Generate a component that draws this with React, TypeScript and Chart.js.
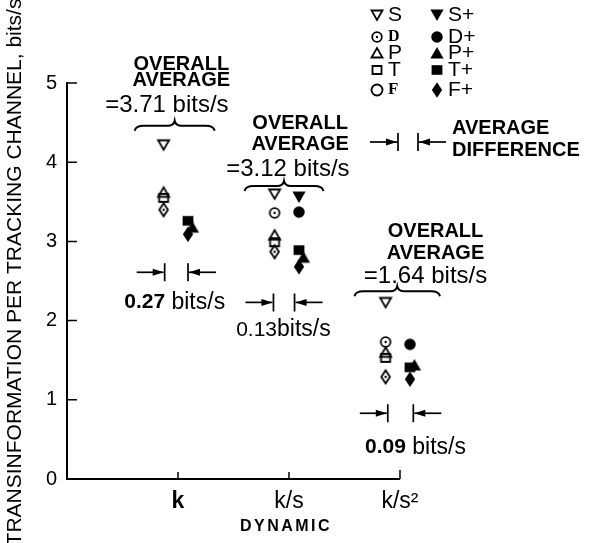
import React, { useEffect, useRef } from "react";
import { Chart, registerables } from "chart.js";

Chart.register(...registerables);

// ---------- data ----------
const CATEGORIES = ["k", "k/s", "k/s²"];
const Y_TICKS = [0, 1, 2, 3, 4, 5];
const Y_TITLE = "TRANSINFORMATION PER TRACKING CHANNEL, bits/s";
const X_TITLE = "DYNAMIC";

// open symbols (without +)
const S_OPEN = [4.22, 3.6, 2.23];
const D_OPEN = [null, 3.36, 1.73];
const P_OPEN = [3.62, 3.08, 1.6];
const T_OPEN = [3.55, 2.99, 1.53];
const F_OPEN = [3.4, 2.87, 1.29];
// filled symbols (with +)
const S_PLUS = [null, 3.56, null];
const D_PLUS = [null, 3.37, 1.7];
const P_PLUS = [3.18, 2.8, 1.44];
const T_PLUS = [3.26, 2.89, 1.41];
const F_PLUS = [3.09, 2.68, 1.26];

const OVERALL_AVG = ["3.71", "3.12", "1.64"];
const AVG_DIFF = ["0.27", "0.13", "0.09"];

// ---------- style / layout ----------
const W = 589;
const H = 543;
const X_MAX = 3.3;
const OPEN_DX = -0.13;
const FILLED_DX = 0.09;
const FONT = "'Liberation Sans', Arial, sans-serif";

type Kind = "triDown" | "triUp" | "circle" | "square" | "diamond" | "ring";

const SERIES: { name: string; values: (number | null)[]; kind: Kind; filled: boolean; dx: number }[] = [
  { name: "S", values: S_OPEN, kind: "triDown", filled: false, dx: OPEN_DX },
  { name: "D", values: D_OPEN, kind: "circle", filled: false, dx: OPEN_DX },
  { name: "P", values: P_OPEN, kind: "triUp", filled: false, dx: OPEN_DX },
  { name: "T", values: T_OPEN, kind: "square", filled: false, dx: OPEN_DX },
  { name: "F", values: F_OPEN, kind: "diamond", filled: false, dx: OPEN_DX },
  { name: "S+", values: S_PLUS, kind: "triDown", filled: true, dx: FILLED_DX },
  { name: "D+", values: D_PLUS, kind: "circle", filled: true, dx: FILLED_DX },
  { name: "P+", values: P_PLUS, kind: "triUp", filled: true, dx: FILLED_DX + 0.04 },
  { name: "T+", values: T_PLUS, kind: "square", filled: true, dx: FILLED_DX },
  { name: "F+", values: F_PLUS, kind: "diamond", filled: true, dx: FILLED_DX },
];

function makeSprite(kind: Kind, filled: boolean): HTMLCanvasElement {
  const c = document.createElement("canvas");
  c.width = 18;
  c.height = 18;
  const g = c.getContext("2d")!;
  g.fillStyle = "#000";
  g.strokeStyle = "#000";
  g.lineWidth = 1.8;
  g.lineJoin = "miter";
  const cx = 9;
  const cy = 9;
  const s = filled ? 1.2 : 1;
  g.beginPath();
  if (kind === "triDown") {
    g.moveTo(cx - 5.5 * s, cy - 4.5 * s);
    g.lineTo(cx + 5.5 * s, cy - 4.5 * s);
    g.lineTo(cx, cy + 5 * s);
    g.closePath();
  } else if (kind === "triUp") {
    g.moveTo(cx - 5.5 * s, cy + 4.5 * s);
    g.lineTo(cx + 5.5 * s, cy + 4.5 * s);
    g.lineTo(cx, cy - 5 * s);
    g.closePath();
  } else if (kind === "circle" || kind === "ring") {
    g.arc(cx, cy, (kind === "ring" ? 5.5 : 4.8) * s, 0, Math.PI * 2);
  } else if (kind === "square") {
    g.rect(cx - 4.5 * s, cy - 4 * s, 9 * s, 8 * s);
  } else if (kind === "diamond") {
    g.moveTo(cx, cy - 6.5 * s);
    g.lineTo(cx + 4.3 * s, cy);
    g.lineTo(cx, cy + 6.5 * s);
    g.lineTo(cx - 4.3 * s, cy);
    g.closePath();
  }
  if (filled) g.fill();
  else g.stroke();
  if (!filled && (kind === "circle" || kind === "diamond")) {
    g.beginPath();
    g.arc(cx, cy, 1.2, 0, Math.PI * 2);
    g.fill();
  }
  return c;
}

function drawArrowLine(ctx: CanvasRenderingContext2D, xFrom: number, xTo: number, y: number) {
  const dir = Math.sign(xTo - xFrom);
  ctx.beginPath();
  ctx.moveTo(xFrom, y);
  ctx.lineTo(xTo, y);
  ctx.stroke();
  ctx.beginPath();
  ctx.moveTo(xTo, y);
  ctx.lineTo(xTo - dir * 11, y - 3.5);
  ctx.lineTo(xTo - dir * 11, y + 3.5);
  ctx.closePath();
  ctx.fill();
}

function drawDiff(ctx: CanvasRenderingContext2D, xl: number, xr: number, y: number) {
  ctx.lineWidth = 1.7;
  const arm = 28;
  const bh = 9;
  ctx.beginPath();
  ctx.moveTo(xl, y - bh);
  ctx.lineTo(xl, y + bh);
  ctx.moveTo(xr, y - bh);
  ctx.lineTo(xr, y + bh);
  ctx.stroke();
  drawArrowLine(ctx, xl - arm, xl - 1, y);
  drawArrowLine(ctx, xr + arm, xr + 1, y);
}

function drawBrace(ctx: CanvasRenderingContext2D, x1: number, x2: number, y: number) {
  const h = 5;
  const xm = (x1 + x2) / 2;
  ctx.lineWidth = 2;
  ctx.beginPath();
  ctx.moveTo(x1, y + h);
  ctx.quadraticCurveTo(x1 + 1, y, x1 + 9, y);
  ctx.lineTo(xm - 7, y);
  ctx.quadraticCurveTo(xm - 1, y, xm, y - h);
  ctx.quadraticCurveTo(xm + 1, y, xm + 7, y);
  ctx.lineTo(x2 - 9, y);
  ctx.quadraticCurveTo(x2 - 1, y, x2, y + h);
  ctx.stroke();
}

function drawParts(ctx: CanvasRenderingContext2D, parts: [string, string][], cx: number, y: number) {
  ctx.textAlign = "left";
  ctx.textBaseline = "middle";
  let total = 0;
  for (const [t, f] of parts) {
    ctx.font = f;
    total += ctx.measureText(t).width;
  }
  let x = cx - total / 2;
  for (const [t, f] of parts) {
    ctx.font = f;
    ctx.fillText(t, x, y);
    x += ctx.measureText(t).width;
  }
}

export default function App() {
  const ref = useRef<HTMLCanvasElement | null>(null);

  useEffect(() => {
    document.body.style.margin = "0";
    const canvas = ref.current!;
    const sprites = SERIES.map((s) => makeSprite(s.kind, s.filled));
    const legendSprites = {
      open: [makeSprite("triDown", false), makeSprite("circle", false), makeSprite("triUp", false), makeSprite("square", false), makeSprite("ring", false)],
      filled: SERIES.slice(5).map((s) => makeSprite(s.kind, true)),
    };

    const annotations = {
      id: "annotations",
      afterDraw(chart: any) {
        const ctx: CanvasRenderingContext2D = chart.ctx;
        const xs = chart.scales.x;
        const ys = chart.scales.y;
        const X = (v: number) => xs.getPixelForValue(v);
        const Y = (v: number) => ys.getPixelForValue(v);
        ctx.save();
        ctx.fillStyle = "#000";
        ctx.strokeStyle = "#000";

        // x axis line (0..3) and inner ticks
        ctx.lineWidth = 2;
        ctx.beginPath();
        ctx.moveTo(X(0) - 1, Y(0));
        ctx.lineTo(X(3), Y(0));
        ctx.stroke();
        ctx.lineWidth = 1.5;
        ctx.beginPath();
        for (let i = 1; i <= 3; i++) {
          ctx.moveTo(X(i), Y(0));
          ctx.lineTo(X(i), Y(0) - (i === 3 ? 9 : 7));
        }
        for (const t of Y_TICKS.slice(1)) {
          ctx.moveTo(X(0), Y(t));
          ctx.lineTo(X(0) + 10, Y(t));
        }
        ctx.stroke();

        // y title
        ctx.save();
        ctx.translate(15, 272);
        ctx.rotate(-Math.PI / 2);
        ctx.font = `21px ${FONT}`;
        ctx.textAlign = "center";
        ctx.textBaseline = "middle";
        ctx.fillText(Y_TITLE, 0, 0);
        ctx.restore();

        const bold = `bold 20px ${FONT}`;
        const big = `24px ${FONT}`;
        // overall averages
        const blocks = [
          { tx: 1.03, ty: [5.24, 5.03], vx: 0.9, vy: 4.72, b: [0.61, 1.33, 4.46] },
          { tx: 2.1, ty: [4.49, 4.22], vx: 1.99, vy: 3.91, b: [1.6, 2.31, 3.7] },
          { tx: 3.32, ty: [3.13, 2.85], vx: 3.23, vy: 2.56, b: [2.59, 3.36, 2.37] },
        ];
        blocks.forEach((bk, i) => {
          drawParts(ctx, [["OVERALL", bold]], X(bk.tx), Y(bk.ty[0]));
          drawParts(ctx, [["AVERAGE", bold]], X(bk.tx), Y(bk.ty[1]));
          drawParts(ctx, [["=" + OVERALL_AVG[i] + " bits/s", big]], X(bk.vx), Y(bk.vy));
          drawBrace(ctx, X(bk.b[0]), X(bk.b[1]), Y(bk.b[2]));
        });

        // average differences
        const diffs = [
          { l: 0.88, r: 1.09, y: 2.61, lx: 0.97, ly: 2.23, boldNum: true, sep: " " },
          { l: 1.86, r: 2.05, y: 2.23, lx: 1.95, ly: 1.88, boldNum: false, sep: "" },
          { l: 2.89, r: 3.12, y: 0.83, lx: 3.14, ly: 0.4, boldNum: true, sep: " " },
        ];
        diffs.forEach((d, i) => {
          drawDiff(ctx, X(d.l), X(d.r), Y(d.y));
          drawParts(
            ctx,
            [
              [AVG_DIFF[i], d.boldNum ? `bold 21px ${FONT}` : `21px ${FONT}`],
              [d.sep + "bits/s", `23px ${FONT}`],
            ],
            X(d.lx),
            Y(d.ly)
          );
        });

        // legend
        const rows = [15, 37, 53, 70, 90];
        const openLabels = ["S", "D", "P", "T", "F"];
        const openFonts = [`21px ${FONT}`, `bold 16px 'Liberation Serif', serif`, `21px ${FONT}`, `21px ${FONT}`, `bold 17px 'Liberation Serif', serif`];
        rows.forEach((ry, i) => {
          const so = legendSprites.open[i];
          ctx.drawImage(so, 377 - so.width / 2, ry - so.height / 2);
          ctx.font = openFonts[i];
          ctx.textAlign = "left";
          ctx.textBaseline = "middle";
          ctx.fillText(openLabels[i], 388, ry);
          const sf = legendSprites.filled[i];
          ctx.drawImage(sf, 437 - sf.width / 2, ry - sf.height / 2);
          ctx.font = `21px ${FONT}`;
          ctx.fillText(openLabels[i] + "+", 448, ry);
        });
        drawDiff(ctx, 398, 418, 142);
        ctx.font = `bold 20px ${FONT}`;
        ctx.textAlign = "left";
        ctx.textBaseline = "middle";
        ctx.fillText("AVERAGE", 452, 128);
        ctx.fillText("DIFFERENCE", 452, 150);

        // x title
        ctx.font = `bold 16px ${FONT}`;
        (ctx as any).letterSpacing = "2.5px";
        ctx.textAlign = "center";
        ctx.fillText(X_TITLE, 286, 527);
        (ctx as any).letterSpacing = "0px";
        ctx.restore();
      },
    };

    const datasets = SERIES.map((s, si) => ({
      label: s.name,
      data: s.values
        .map((v, i) => (v == null ? null : { x: i + 1 + s.dx, y: v }))
        .filter((p) => p !== null) as { x: number; y: number }[],
      pointStyle: sprites[si] as any,
      pointRadius: 6,
      showLine: false,
      clip: false as any,
    }));

    const chart = new Chart(canvas, {
      type: "scatter",
      data: { datasets },
      options: {
        responsive: false,
        animation: false,
        layout: { padding: { top: 83, right: W - (67 + (X_MAX / 3) * 333), left: 0, bottom: 0 } },
        plugins: { legend: { display: false }, tooltip: { enabled: false } },
        scales: {
          x: {
            type: "linear",
            min: 0,
            max: X_MAX,
            afterBuildTicks: (s: any) => {
              s.ticks = CATEGORIES.map((_, i) => ({ value: i + 1 }));
            },
            afterFit: (s: any) => {
              s.height = 64;
            },
            grid: { display: false, drawTicks: false },
            border: { display: false },
            ticks: {
              autoSkip: false,
              maxRotation: 0,
              padding: 9,
              color: "#000",
              callback: (v: any) => CATEGORIES[Math.round(v) - 1],
              font: (c: any) => ({ family: FONT, size: 23, weight: c.index === 0 ? "bold" : "normal" }),
            },
          },
          y: {
            min: 0,
            max: 5,
            afterBuildTicks: (s: any) => {
              s.ticks = Y_TICKS.map((v) => ({ value: v }));
            },
            afterFit: (s: any) => {
              s.width = 67;
            },
            grid: { display: false, drawTicks: false },
            border: { display: true, color: "#000", width: 2 },
            ticks: { padding: 10, color: "#000", font: { family: FONT, size: 20 } },
          },
        },
      },
      plugins: [annotations],
    });
    return () => chart.destroy();
  }, []);

  return (
    <div style={{ width: W, height: H, background: "#fff" }}>
      <canvas ref={ref} width={W} height={H} />
    </div>
  );
}
